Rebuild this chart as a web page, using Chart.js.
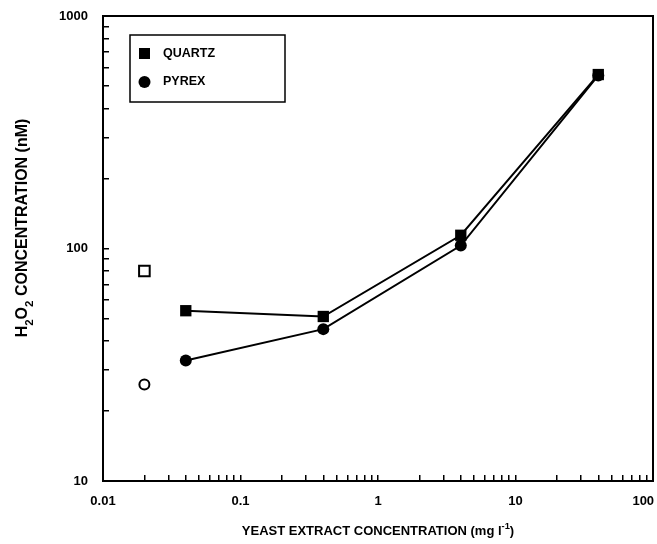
<!DOCTYPE html>
<html>
<head>
<meta charset="utf-8">
<script src="https://cdn.jsdelivr.net/npm/chart.js@4/dist/chart.umd.min.js"></script>
<style>
  body { margin: 0; background: #fff; }
  #c { display: block; }
</style>
</head>
<body>
<canvas id="c" width="657" height="544"></canvas>
<script>
// values
const yeastConc = [0.04, 0.4, 4, 40];
const quartzH2O2 = [54, 51, 114, 560];
const pyrexH2O2 = [33, 45, 103, 555];
const blankConc = [0.02];
const quartzBlank = [80];
const pyrexBlank = [26];
const seriesNames = ['QUARTZ', 'PYREX'];
const xTickLabels = ['0.01', '0.1', '1', '10', '100'];
const yTickLabels = ['10', '100', '1000'];

const FONT = "'Liberation Sans', Arial, Helvetica, sans-serif";

function pts(xs, ys){ return xs.map((x,i)=>({x, y: ys[i]})); }

// log ticks 1..9 per decade, labels only on decades
function logTicks(scale){
    const t = [];
    const e0 = Math.round(Math.log10(scale.min)), e1 = Math.round(Math.log10(scale.max));
    for(let e=e0; e<e1; e++){
        for(let m=1; m<10; m++) t.push({value: +(m*Math.pow(10,e)).toPrecision(6)});
    }
    t.push({value: scale.max});
    scale.ticks = t;
}
function decadeLabel(labels, padLast){
    return function(v){
        const i = labels.findIndex(l => Math.abs(parseFloat(l) - v) / v < 1e-6);
        if(i < 0) return '';
        // last x label sits inside the canvas edge, as in the figure
        return (padLast && i === labels.length-1) ? labels[i] + '\u2002\u2002\u2002' : labels[i];
    };
}
function noPad(s){
    s.paddingLeft = 0; s.paddingRight = 0; s.paddingTop = 0; s.paddingBottom = 0;
}

// rich text with sub / superscripts
function richWidth(ctx, parts, size){
    let w = 0;
    parts.forEach(p=>{
        ctx.font = 'bold ' + (p.s ? size*0.72 : size) + 'px ' + FONT;
        w += ctx.measureText(p.t).width;
    });
    return w;
}
function drawRich(ctx, parts, cx, y, size){
    let x = cx - richWidth(ctx, parts, size)/2;
    parts.forEach(p=>{
        ctx.font = 'bold ' + (p.s ? size*0.72 : size) + 'px ' + FONT;
        const dy = p.s === 'sub' ? size*0.35 : p.s === 'sup' ? -size*0.45 : 0;
        ctx.fillText(p.t, x, y + dy);
        x += ctx.measureText(p.t).width;
    });
}

const framePlugin = {
    id: 'frame',
    afterDraw(chart){
        const ctx = chart.ctx, a = chart.chartArea;
        ctx.save();
        ctx.strokeStyle = '#000';
        ctx.lineWidth = 2;
        ctx.strokeRect(a.left, a.top, a.right - a.left, a.bottom - a.top);

        // legend box
        const lx = a.left + 27, ly = a.top + 19, lw = 155, lh = 67;
        ctx.lineWidth = 1.5;
        ctx.strokeRect(lx, ly, lw, lh);
        ctx.fillStyle = '#000';
        ctx.fillRect(lx + 9, ly + 13, 11, 11);
        ctx.beginPath();
        ctx.arc(lx + 14.5, ly + 47, 6, 0, Math.PI*2);
        ctx.fill();
        ctx.font = 'bold 12.5px ' + FONT;
        ctx.textBaseline = 'middle';
        ctx.fillText(seriesNames[0], lx + 33, ly + 18.5);
        ctx.fillText(seriesNames[1], lx + 33, ly + 47);

        // axis titles
        ctx.textBaseline = 'alphabetic';
        drawRich(ctx, [
            {t: 'YEAST EXTRACT CONCENTRATION (mg l'},
            {t: '-1', s: 'sup'},
            {t: ')'}
        ], (a.left + a.right)/2, 535, 13);

        ctx.translate(27, 228);
        ctx.rotate(-Math.PI/2);
        drawRich(ctx, [
            {t: 'H'}, {t: '2', s: 'sub'}, {t: 'O'}, {t: '2', s: 'sub'},
            {t: ' CONCENTRATION (nM)'}
        ], 0, 0, 16);
        ctx.restore();
    }
};

const axisStyle = {
    grid: { drawOnChartArea: false, drawTicks: true, tickLength: -6, color: '#000', lineWidth: 1.5 },
    border: { display: false }
};

new Chart(document.getElementById('c'), {
    type: 'scatter',
    data: {
        datasets: [
            { label: seriesNames[0], data: pts(yeastConc, quartzH2O2), showLine: true,
              borderColor: '#000', backgroundColor: '#000', borderWidth: 2,
              pointStyle: 'rect', pointRadius: 8, pointBorderWidth: 0 },
            { label: seriesNames[1], data: pts(yeastConc, pyrexH2O2), showLine: true,
              borderColor: '#000', backgroundColor: '#000', borderWidth: 2,
              pointStyle: 'circle', pointRadius: 6, pointBorderWidth: 0 },
            { label: 'quartz blank', data: pts(blankConc, quartzBlank), showLine: false,
              borderColor: '#000', backgroundColor: '#fff',
              pointStyle: 'rect', pointRadius: 7.5, pointBorderWidth: 2 },
            { label: 'pyrex blank', data: pts(blankConc, pyrexBlank), showLine: false,
              borderColor: '#000', backgroundColor: '#fff',
              pointStyle: 'circle', pointRadius: 5, pointBorderWidth: 2 }
        ]
    },
    options: {
        responsive: false,
        animation: false,
        devicePixelRatio: 1,
        layout: { autoPadding: false, padding: { left: 0, top: 16, right: 4, bottom: 0 } },
        plugins: { legend: { display: false }, tooltip: { enabled: false } },
        scales: {
            x: Object.assign({}, axisStyle, {
                type: 'logarithmic', position: 'bottom', min: 0.01, max: 100,
                afterBuildTicks: logTicks,
                afterFit: s => { s.height = 63; noPad(s); },
                ticks: { autoSkip: false, maxRotation: 0, padding: 19, color: '#000',
                         font: { family: FONT, size: 13, weight: 'bold' },
                         callback: decadeLabel(xTickLabels, true) }
            }),
            y: Object.assign({}, axisStyle, {
                type: 'logarithmic', position: 'left', min: 10, max: 1000,
                afterBuildTicks: logTicks,
                afterFit: s => { s.width = 103; noPad(s); },
                ticks: { autoSkip: false, padding: 21, color: '#000',
                         font: { family: FONT, size: 13, weight: 'bold' },
                         callback: decadeLabel(yTickLabels, false) }
            })
        }
    },
    plugins: [framePlugin]
});
</script>
</body>
</html>
